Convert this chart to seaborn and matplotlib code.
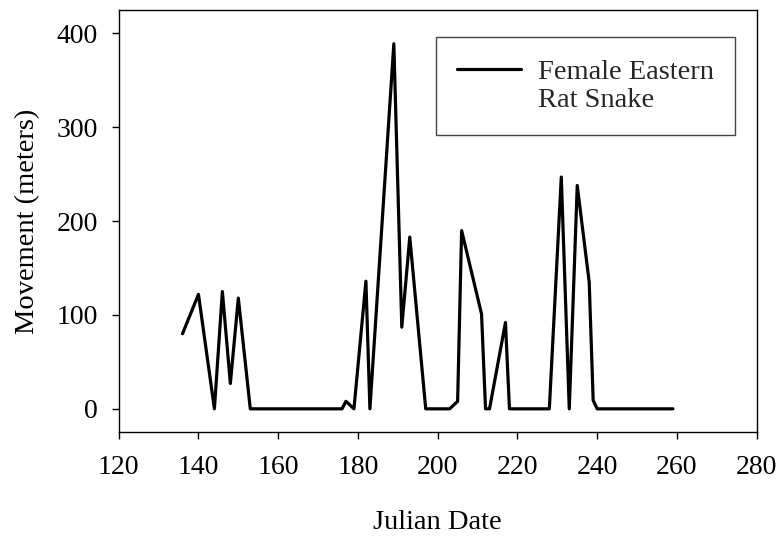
import matplotlib
matplotlib.use("Agg")
import matplotlib.pyplot as plt
from matplotlib.lines import Line2D
import numpy as np
import pandas as pd
import seaborn as sns

# Julian date of each relocation and the distance moved since the previous fix
julian_day = [136, 140, 144, 146, 148, 150, 153, 176, 177, 179, 182, 183,
              189, 191, 193, 197, 203, 205, 206, 211, 212, 213, 217, 218,
              228, 231, 233, 235, 238, 239, 240, 259]
movement_m = [80, 122, 0, 125, 27, 118, 0, 0, 8, 0, 136, 0,
              389, 87, 183, 0, 0, 8, 190, 101, 0, 0, 92, 0,
              0, 247, 0, 238, 135, 9, 0, 0]

series_label = ["Female Eastern", "Rat Snake"]
x_ticks = [120, 140, 160, 180, 200, 220, 240, 260, 280]
y_ticks = [0, 100, 200, 300, 400]

df = pd.DataFrame({"Julian Date": julian_day, "Movement": movement_m})

sns.set_theme(style="ticks")
plt.rcParams["font.family"] = ["Liberation Serif", "DejaVu Serif"]

fig = plt.figure(figsize=(7.82, 5.37), dpi=100)
ax = fig.add_axes([0.1518, 0.195, 0.8158, 0.7864])

sns.lineplot(data=df, x="Julian Date", y="Movement", color="black",
             linewidth=2.3, ax=ax, legend=False)

ax.set_xlim(120, 280)
ax.set_ylim(-25, 425)
ax.set_xticks(x_ticks)
ax.set_yticks(y_ticks)
ax.tick_params(axis="both", direction="out", length=5, width=1.0,
               color="black", labelsize=20, labelcolor="black")
ax.tick_params(axis="x", pad=11)
ax.tick_params(axis="y", pad=10)

for side in ["left", "right", "top", "bottom"]:
    ax.spines[side].set_visible(True)
    ax.spines[side].set_color("black")
    ax.spines[side].set_linewidth(1.0)

ax.set_xlabel("Julian Date", fontsize=20.5, color="black", labelpad=22)
ax.set_ylabel("Movement (meters)", fontsize=20.5, color="black", labelpad=12)

line = ax.get_lines()[0]
blank = Line2D([], [], color="none")
leg = ax.legend([line, blank], series_label, loc="upper left",
                bbox_to_anchor=(0.497, 0.935), borderaxespad=0,
                fontsize=20.5, handlelength=2.25, handletextpad=0.58,
                borderpad=0.75, labelspacing=0.1, fancybox=False,
                frameon=True, edgecolor="#444444", framealpha=1)
leg.get_frame().set_linewidth(1.0)

fig.savefig("out.png", dpi=100)
